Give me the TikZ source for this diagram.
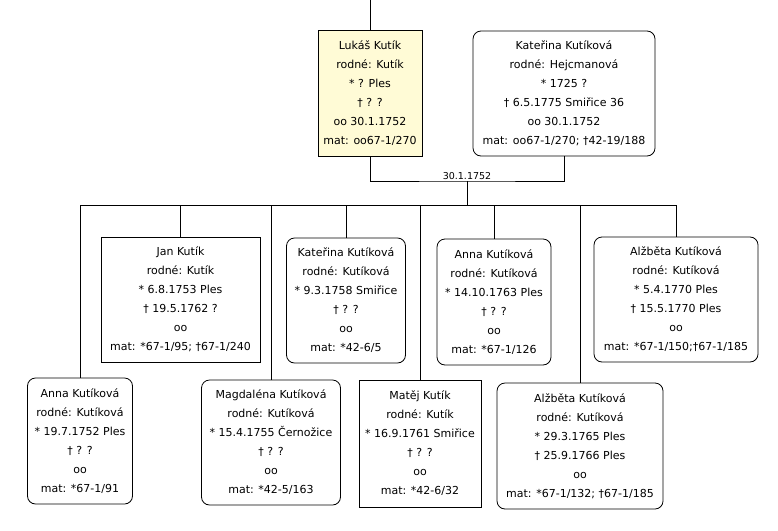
\documentclass[tikz,border=0pt]{standalone}
\usepackage{fontspec}
\setmainfont{DejaVu Sans}
\usepackage{tikz}
\definecolor{famyellow}{RGB}{255, 251, 214}

\begin{document}
\begin{tikzpicture}[x=1pt, y=-1pt,
        person/.style={rectangle, draw, line width=0.8pt, inner sep=0pt,
                    align=center, font={\fontsize{11}{19}\selectfont}},
        rperson/.style={person, rounded corners=8pt},
        link/.style={line width=0.8pt},
        lbl/.style={font={\fontsize{9.5}{11}\selectfont}, inner sep=1pt},
      ]
        \useasboundingbox (0,0) rectangle (778,530);

        % parents
        \node[person, fill=famyellow, minimum width=104pt, minimum height=126pt] (lukas) at (370, 93)
              {Lukáš Kutík\\rodné: Kutík\\* ? Ples\\† ? ?\\oo 30.1.1752\\mat: oo67-1/270};
        \node[rperson, minimum width=182pt, minimum height=125pt] (katerina) at (564, 93.5)
              {Kateřina Kutíková\\rodné: Hejcmanová\\* 1725 ?\\† 6.5.1775 Smiřice 36\\oo 30.1.1752\\mat: oo67-1/270; †42-19/188};
        \coordinate (top) at (370, 0);
        \coordinate (wed) at (467, 181);
        \coordinate (bus) at (467, 205);
        \draw[link] (lukas.north) -- (top);
        \draw[link] (lukas.south) |- (wed) -| (katerina.south);
        \draw[link] (wed) -- (bus);
        \node[lbl, above] (weddate) at (wed) {30.1.1752};

        % children, upper row
        \node[person, minimum width=159pt, minimum height=125pt] (jan) at (180.5, 299.5)
              {Jan Kutík\\rodné: Kutík\\* 6.8.1753 Ples\\† 19.5.1762 ?\\oo\\mat: *67-1/95; †67-1/240};
        \node[rperson, minimum width=119pt, minimum height=125pt] (katka) at (346, 300.5)
              {Kateřina Kutíková\\rodné: Kutíková\\* 9.3.1758 Smiřice\\† ? ?\\oo\\mat: *42-6/5};
        \node[rperson, minimum width=114pt, minimum height=126pt] (annb) at (494, 302)
              {Anna Kutíková\\rodné: Kutíková\\* 14.10.1763 Ples\\† ? ?\\oo\\mat: *67-1/126};
        \node[rperson, minimum width=164pt, minimum height=125pt] (alzb) at (676, 299.5)
              {Alžběta Kutíková\\rodné: Kutíková\\* 5.4.1770 Ples\\† 15.5.1770 Ples\\oo\\mat: *67-1/150;†67-1/185};

        % children, lower row
        \node[rperson, minimum width=105pt, minimum height=126pt] (anna) at (80, 441)
              {Anna Kutíková\\rodné: Kutíková\\* 19.7.1752 Ples\\† ? ?\\oo\\mat: *67-1/91};
        \node[rperson, minimum width=139pt, minimum height=125pt] (magda) at (271, 442.5)
              {Magdaléna Kutíková\\rodné: Kutíková\\* 15.4.1755 Černožice\\† ? ?\\oo\\mat: *42-5/163};
        \node[person, minimum width=122pt, minimum height=127pt] (matej) at (420, 443.5)
              {Matěj Kutík\\rodné: Kutík\\* 16.9.1761 Smiřice\\† ? ?\\oo\\mat: *42-6/32};
        \node[rperson, minimum width=166pt, minimum height=126pt] (alza) at (580, 446)
              {Alžběta Kutíková\\rodné: Kutíková\\* 29.3.1765 Ples\\† 25.9.1766 Ples\\oo\\mat: *67-1/132; †67-1/185};

        \foreach \kid in {anna, jan, magda, katka, matej, annb, alza, alzb}
          \draw[link] (bus) -| (\kid.north);
      \end{tikzpicture}
\end{document}
